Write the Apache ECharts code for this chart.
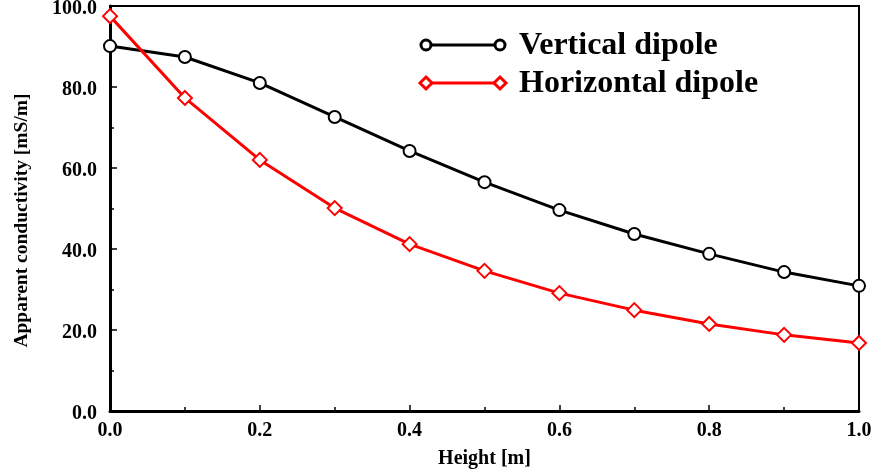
<!DOCTYPE html>
<html>
<head>
<meta charset="utf-8">
<script src="https://cdn.jsdelivr.net/npm/echarts@6/dist/echarts.min.js"></script>
<style>html,body{margin:0;padding:0;background:#fff}#c{width:874px;height:475px}</style>
</head>
<body>
<div id="c"></div>
<script>
const heights = [0.0, 0.1, 0.2, 0.3, 0.4, 0.5, 0.6, 0.7, 0.8, 0.9, 1.0];
const verticalDipole = [90.1, 87.4, 81.0, 72.6, 64.2, 56.5, 49.6, 43.7, 38.8, 34.3, 30.9];
const horizontalDipole = [97.5, 77.3, 62.0, 50.1, 41.2, 34.6, 29.1, 24.9, 21.5, 18.8, 16.8];
const seriesNames = ['Vertical dipole', 'Horizontal dipole'];

const FONT = '"Liberation Serif", "Times New Roman", serif';
const chart = echarts.init(document.getElementById('c'));
const pair = (xs, ys) => xs.map((x, i) => [x, ys[i]]);

chart.setOption({
  animation: false,
  backgroundColor: '#fff',
  grid: { left: 110, right: 15, top: 6, bottom: 64, show: true, borderColor: '#000', borderWidth: 2, outerBoundsMode: 'none', containLabel: false },
  xAxis: {
    type: 'value', min: 0, max: 1, interval: 0.2,
    name: 'Height [m]', nameLocation: 'middle', nameGap: 38,
    nameTextStyle: { fontFamily: FONT, fontWeight: 'bold', fontSize: 20, color: '#000' },
    axisLine: { show: true, lineStyle: { color: '#000', width: 3 } },
    axisTick: { show: true, inside: true, length: 6, lineStyle: { color: '#000', width: 1.5 } },
    minorTick: { show: true, splitNumber: 2, length: 4, lineStyle: { color: '#000', width: 1.5 } },
    splitLine: { show: false },
    axisLabel: { margin: 10, fontFamily: FONT, fontWeight: 'bold', fontSize: 20, color: '#000', formatter: v => v.toFixed(1) }
  },
  yAxis: {
    type: 'value', min: 0, max: 100, interval: 20,
    name: 'Apparent conductivity [mS/m]', nameLocation: 'middle', nameGap: 78,
    nameTextStyle: { fontFamily: FONT, fontWeight: 'bold', fontSize: 19.5, color: '#000', padding: [0, 24, 0, 0] },
    axisLine: { show: true, lineStyle: { color: '#000', width: 3 } },
    axisTick: { show: true, inside: true, length: 7, lineStyle: { color: '#000', width: 1.5 } },
    minorTick: { show: true, splitNumber: 2, length: 4, lineStyle: { color: '#000', width: 1.5 } },
    splitLine: { show: false },
    axisLabel: { margin: 13, verticalAlign: 'top', lineHeight: 6, fontFamily: FONT, fontWeight: 'bold', fontSize: 20, color: '#000', formatter: v => v.toFixed(1) }
  },
  series: [
    {
      name: seriesNames[0], type: 'line', data: pair(heights, verticalDipole),
      symbol: 'emptyCircle', symbolSize: 12,
      lineStyle: { color: '#000', width: 3 },
      itemStyle: { color: '#000', borderColor: '#000', borderWidth: 3 }, z: 3
    },
    {
      name: seriesNames[1], type: 'line', data: pair(heights, horizontalDipole),
      symbol: 'emptyDiamond', symbolSize: 14,
      lineStyle: { color: '#ff0000', width: 3 },
      itemStyle: { color: '#ff0000', borderColor: '#ff0000', borderWidth: 3 }, z: 4
    }
  ],
  graphic: [
    { type: 'line', shape: { x1: 426, y1: 45, x2: 500, y2: 45 }, style: { stroke: '#000', lineWidth: 3 } },
    { type: 'circle', shape: { cx: 426, cy: 45, r: 5 }, style: { fill: '#fff', stroke: '#000', lineWidth: 3 } },
    { type: 'circle', shape: { cx: 500, cy: 45, r: 5 }, style: { fill: '#fff', stroke: '#000', lineWidth: 3 } },
    { type: 'text', x: 519, y: 46, style: { text: seriesNames[0], fill: '#000', font: 'bold 32px ' + FONT, verticalAlign: 'middle' } },
    { type: 'line', shape: { x1: 426, y1: 83, x2: 500, y2: 83 }, style: { stroke: '#ff0000', lineWidth: 3 } },
    { type: 'polygon', shape: { points: [[426, 77], [432, 83], [426, 89], [420, 83]] }, style: { fill: '#fff', stroke: '#ff0000', lineWidth: 3 } },
    { type: 'polygon', shape: { points: [[500, 77], [506, 83], [500, 89], [494, 83]] }, style: { fill: '#fff', stroke: '#ff0000', lineWidth: 3 } },
    { type: 'text', x: 519, y: 84, style: { text: seriesNames[1], fill: '#000', font: 'bold 32px ' + FONT, verticalAlign: 'middle' } }
  ]
});
</script>
</body>
</html>
